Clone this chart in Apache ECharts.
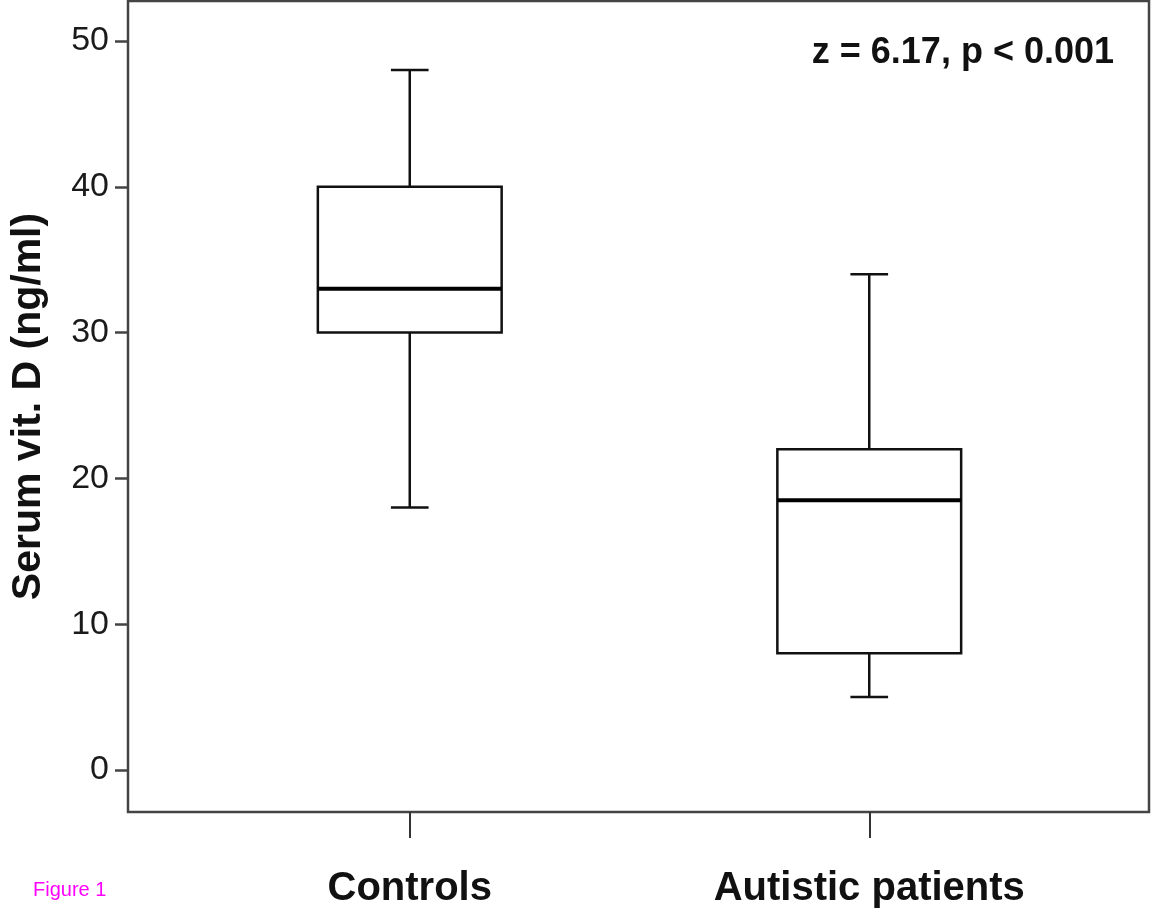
<!DOCTYPE html>
<html>
<head>
<meta charset="utf-8">
<script src="https://cdn.jsdelivr.net/npm/echarts@6/dist/echarts.min.js"></script>
<style>
html,body{margin:0;padding:0;background:#fff;}
#chart{width:1152px;height:910px;}
</style>
</head>
<body>
<div id="chart"></div>
<script>
const categories = ['Controls', 'Autistic patients'];
// [min, Q1, median, Q3, max]
const controlsStats = [18, 30, 33, 40, 48];
const autisticStats = [5, 8, 18.5, 22, 34];
const yTickValues = [0, 10, 20, 30, 40, 50];
const annotation = 'z = 6.17, p < 0.001';
const yTitle = 'Serum vit. D (ng/ml)';
const figureLabel = 'Figure 1';

const FONT = '"Liberation Sans", Arial, Helvetica, sans-serif';
const boxData = [controlsStats, autisticStats].map((s, i) => [i].concat(s));

const chart = echarts.init(document.getElementById('chart'), null, {renderer: 'canvas'});

function renderBox(params, api) {
  const x = api.value(0);
  const pMin = api.coord([x, api.value(1)]);
  const pQ1 = api.coord([x, api.value(2)]);
  const pMed = api.coord([x, api.value(3)]);
  const pQ3 = api.coord([x, api.value(4)]);
  const pMax = api.coord([x, api.value(5)]);
  const band = api.size([1, 0])[0];
  const bw = band * 0.4;
  const cw = band * 0.082;
  const cx = pMed[0];
  const ls = {stroke: '#111', lineWidth: 2.5};
  return {
    type: 'group',
    children: [
      {type: 'line', shape: {x1: cx, y1: pQ3[1], x2: cx, y2: pMax[1]}, style: ls},
      {type: 'line', shape: {x1: cx - cw / 2, y1: pMax[1], x2: cx + cw / 2, y2: pMax[1]}, style: ls},
      {type: 'line', shape: {x1: cx, y1: pQ1[1], x2: cx, y2: pMin[1]}, style: ls},
      {type: 'line', shape: {x1: cx - cw / 2, y1: pMin[1], x2: cx + cw / 2, y2: pMin[1]}, style: ls},
      {type: 'rect', shape: {x: cx - bw / 2, y: pQ3[1], width: bw, height: pQ1[1] - pQ3[1]},
        style: {fill: '#fff', stroke: '#111', lineWidth: 2.5}},
      {type: 'line', shape: {x1: cx - bw / 2, y1: pMed[1], x2: cx + bw / 2, y2: pMed[1]},
        style: {stroke: '#000', lineWidth: 4}}
    ]
  };
}

const option = {
  backgroundColor: '#fff',
  animation: false,
  title: [
    {text: annotation, right: 33, top: 30,
      textStyle: {fontFamily: FONT, fontSize: 36, fontWeight: 'bold', color: '#111'}},
    {text: figureLabel, left: 28, top: 875,
      textStyle: {fontFamily: FONT, fontSize: 20, fontWeight: 'normal', color: '#ff00ff'}}
  ],
  grid: [
    {left: 179, right: 53, top: 1, bottom: 98, show: false},
    {left: 128, right: 3, top: 1, bottom: 98, show: true, borderColor: '#444', borderWidth: 2.5, backgroundColor: 'transparent'}
  ],
  xAxis: [
    {type: 'category', gridIndex: 0, data: categories, boundaryGap: true, position: 'bottom',
      axisLine: {show: false, onZero: false},
      axisTick: {show: true, alignWithLabel: true, length: 26, lineStyle: {color: '#333', width: 2}},
      axisLabel: {margin: 57, fontFamily: FONT, fontSize: 40, fontWeight: 'bold', color: '#111'},
      splitLine: {show: false}},
    {type: 'value', gridIndex: 1, show: false}
  ],
  yAxis: [
    {type: 'value', gridIndex: 0, min: -2.88, max: 52.74, offset: 51,
      name: yTitle, nameLocation: 'middle', nameGap: 80, nameRotate: 90,
      nameTextStyle: {fontFamily: FONT, fontSize: 41, fontWeight: 'bold', color: '#111'},
      axisLine: {show: false},
      axisTick: {show: true, length: 14, customValues: yTickValues, lineStyle: {color: '#444', width: 2.5}},
      axisLabel: {margin: 20, customValues: yTickValues, fontFamily: FONT, fontSize: 34, color: '#1a1a1a'},
      splitLine: {show: false}},
    {type: 'value', gridIndex: 1, show: false}
  ],
  series: [
    {type: 'custom', xAxisIndex: 0, yAxisIndex: 0, renderItem: renderBox,
      encode: {x: 0, y: [1, 2, 3, 4, 5]}, data: boxData, z: 5}
  ]
};
chart.setOption(option);
</script>
</body>
</html>
